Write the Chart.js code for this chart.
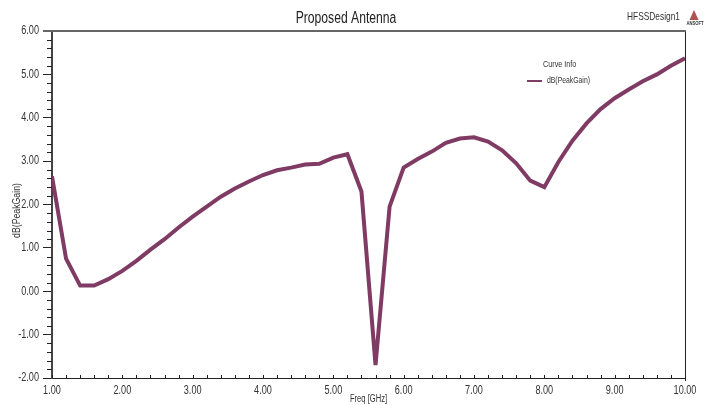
<!DOCTYPE html>
<html>
<head>
<meta charset="utf-8">
<title>Proposed Antenna</title>
<script src="https://cdn.jsdelivr.net/npm/chart.js@4/dist/chart.umd.min.js"></script>
<style>
  html, body { margin: 0; padding: 0; background: #fff; }
  #wrap { width: 705px; height: 405px; }
</style>
</head>
<body>
<div id="wrap"><canvas id="chart" width="705" height="405"></canvas></div>
<script>
const freq = [1.0, 1.2, 1.4, 1.6, 1.8, 2.0, 2.2, 2.4, 2.6, 2.8, 3.0, 3.2, 3.4, 3.6, 3.8, 4.0, 4.2, 4.4, 4.6, 4.8,
  5.0, 5.2, 5.4, 5.6, 5.8, 6.0, 6.2, 6.4, 6.6, 6.8, 7.0, 7.2, 7.4, 7.6, 7.8, 8.0, 8.2, 8.4, 8.6, 8.8,
  9.0, 9.2, 9.4, 9.6, 9.8, 10.0];
const peakGain = [2.65, 0.75, 0.13, 0.13, 0.28, 0.47, 0.70, 0.96, 1.20, 1.47, 1.72, 1.95, 2.18, 2.37, 2.53, 2.68, 2.79, 2.85, 2.92, 2.94,
  3.08, 3.16, 2.30, -1.70, 1.95, 2.85, 3.05, 3.22, 3.42, 3.52, 3.55, 3.45, 3.25, 2.95, 2.55, 2.40, 2.98, 3.47, 3.87, 4.20,
  4.45, 4.65, 4.84, 5.00, 5.20, 5.37];
const yMinorTicks = [5.8, 5.6, 5.4, 5.2, 4.8, 4.6, 4.4, 4.2, 3.8, 3.6, 3.4, 3.2, 2.8, 2.6, 2.4, 2.2, 1.8, 1.6, 1.4, 1.2,
  0.8, 0.6, 0.4, 0.2, -0.2, -0.4, -0.6, -0.8, -1.2, -1.4, -1.6, -1.8];

const LINE_COLOR = '#7f3b63';
const TEXT_COLOR = '#333';
const FONT = '"Liberation Sans", sans-serif';
const TEXT_SQUEEZE = 0.76;

const canvas = document.getElementById('chart');
const ctx2d = canvas.getContext('2d');

// no Arial Narrow on the box, so squeeze every label horizontally
const plainFillText = ctx2d.fillText.bind(ctx2d);
ctx2d.fillText = (text, x, y) => {
  ctx2d.save();
  ctx2d.translate(x, y);
  ctx2d.scale(TEXT_SQUEEZE, 1);
  plainFillText(text, 0, 0);
  ctx2d.restore();
};

// inward x ticks, minor y ticks, frame and the HFSS decorations
const decorations = {
  id: 'decorations',
  afterDraw(chart) {
    const ctx = chart.ctx;
    const { x, y } = chart.scales;
    const area = chart.chartArea;
    ctx.save();

    ctx.strokeStyle = '#222';
    ctx.lineWidth = 1;
    ctx.beginPath();
    freq.forEach(v => {
      const px = Math.round(x.getPixelForValue(v)) + 0.5;
      ctx.moveTo(px, area.bottom - 3);
      ctx.lineTo(px, area.bottom);
    });
    yMinorTicks.forEach(v => {
      const py = Math.round(y.getPixelForValue(v)) + 0.5;
      ctx.moveTo(area.left - 5, py);
      ctx.lineTo(area.left, py);
    });
    ctx.moveTo(area.right + 0.5, area.top);
    ctx.lineTo(area.right + 0.5, area.bottom + 3);
    ctx.stroke();

    ctx.strokeStyle = '#666';
    ctx.lineWidth = 2;
    ctx.beginPath();
    ctx.moveTo(area.left - 9, area.top);
    ctx.lineTo(area.right + 1, area.top);
    ctx.stroke();

    ctx.fillStyle = TEXT_COLOR;
    ctx.textBaseline = 'middle';
    ctx.textAlign = 'center';

    ctx.save();
    ctx.translate(17, 210.5);
    ctx.rotate(-Math.PI / 2);
    ctx.font = '11.5px ' + FONT;
    ctx.fillText('dB(PeakGain)', 0, 0);
    ctx.restore();

    // legend box text
    ctx.textAlign = 'left';
    ctx.font = '9.5px ' + FONT;
    ctx.fillText('Curve Info', 543, 64.5);
    ctx.font = '9px ' + FONT;
    ctx.fillText('dB(PeakGain)', 547, 81);
    ctx.strokeStyle = LINE_COLOR;
    ctx.lineWidth = 2;
    ctx.beginPath();
    ctx.moveTo(527, 81);
    ctx.lineTo(542, 81);
    ctx.stroke();

    // project name and logo
    ctx.font = '11px ' + FONT;
    ctx.fillText('HFSSDesign1', 627, 17);
    ctx.fillStyle = '#b0504f';
    ctx.beginPath();
    ctx.moveTo(694, 10);
    ctx.lineTo(698.5, 20);
    ctx.lineTo(689.5, 20);
    ctx.closePath();
    ctx.fill();
    ctx.fillStyle = TEXT_COLOR;
    ctx.font = 'bold 5.5px ' + FONT;
    ctx.textAlign = 'center';
    ctx.fillText('ANSOFT', 695, 23);
    ctx.restore();
  }
};

new Chart(canvas, {
  type: 'line',
  data: {
    labels: freq,
    datasets: [{
      label: 'dB(PeakGain)',
      data: peakGain,
      borderColor: LINE_COLOR,
      borderWidth: 4,
      pointRadius: 0,
      tension: 0,
      fill: false,
    }]
  },
  options: {
    responsive: false,
    animation: false,
    layout: { autoPadding: false, padding: { right: 13, top: 0, left: 0, bottom: 0 } },
    plugins: {
      legend: { display: false },
      tooltip: { enabled: false },
      title: {
        display: true,
        text: 'Proposed Antenna',
        color: '#222',
        font: { family: FONT, size: 16, weight: 'normal', lineHeight: 1.2 },
        padding: { top: 9, bottom: 2.8 },
      },
    },
    scales: {
      x: {
        type: 'linear',
        min: 1,
        max: 10,
        afterFit: s => { s.height = 27; },
        border: { color: '#222', width: 1 },
        grid: { drawOnChartArea: false, drawTicks: false },
        ticks: {
          stepSize: 1,
          maxRotation: 0,
          autoSkip: false,
          padding: 5,
          color: TEXT_COLOR,
          font: { family: FONT, size: 12 },
          callback: v => v.toFixed(2),
        },
        title: {
          display: true,
          text: 'Freq [GHz]',
          color: TEXT_COLOR,
          font: { family: FONT, size: 10 },
          padding: { top: 0, bottom: 0 },
        },
      },
      y: {
        min: -2,
        max: 6,
        afterFit: s => { s.width = 52; },
        border: { color: '#444', width: 2 },
        grid: { drawOnChartArea: false, drawTicks: true, tickLength: 9, tickColor: '#222' },
        ticks: {
          stepSize: 1,
          autoSkip: false,
          padding: 4,
          color: TEXT_COLOR,
          font: { family: FONT, size: 12 },
          callback: v => v.toFixed(2),
        },
      },
    },
  },
  plugins: [decorations],
});
</script>
</body>
</html>
